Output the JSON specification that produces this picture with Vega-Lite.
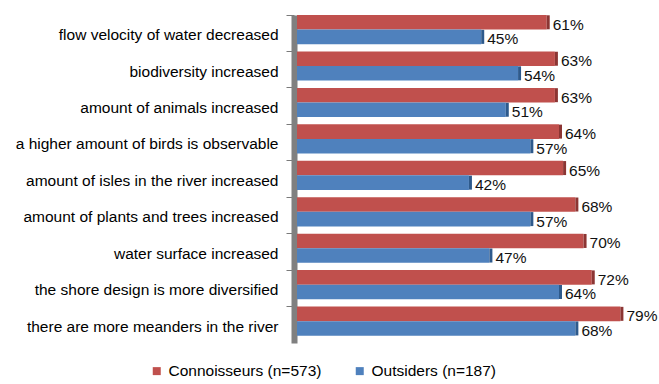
{
  "$schema": "https://vega.github.io/schema/vega-lite/v6.json",
  "width": 327.5,
  "height": 328,
  "autosize": {"type": "none"},
  "padding": {"left": 297, "top": 15, "right": 34.5, "bottom": 41},
  "background": "white",
  "config": {
    "view": {"stroke": null},
    "font": "Liberation Sans"
  },
  "data": {
    "values": [
      {"item": "flow velocity of water decreased", "series": "Connoisseurs (n=573)", "share": 0.61},
      {"item": "flow velocity of water decreased", "series": "Outsiders (n=187)", "share": 0.45},
      {"item": "biodiversity increased", "series": "Connoisseurs (n=573)", "share": 0.63},
      {"item": "biodiversity increased", "series": "Outsiders (n=187)", "share": 0.54},
      {"item": "amount of animals increased", "series": "Connoisseurs (n=573)", "share": 0.63},
      {"item": "amount of animals increased", "series": "Outsiders (n=187)", "share": 0.51},
      {"item": "a higher amount of birds is observable", "series": "Connoisseurs (n=573)", "share": 0.64},
      {"item": "a higher amount of birds is observable", "series": "Outsiders (n=187)", "share": 0.57},
      {"item": "amount of isles in the river increased", "series": "Connoisseurs (n=573)", "share": 0.65},
      {"item": "amount of isles in the river increased", "series": "Outsiders (n=187)", "share": 0.42},
      {"item": "amount of plants and trees increased", "series": "Connoisseurs (n=573)", "share": 0.68},
      {"item": "amount of plants and trees increased", "series": "Outsiders (n=187)", "share": 0.57},
      {"item": "water surface increased", "series": "Connoisseurs (n=573)", "share": 0.70},
      {"item": "water surface increased", "series": "Outsiders (n=187)", "share": 0.47},
      {"item": "the shore design is more diversified", "series": "Connoisseurs (n=573)", "share": 0.72},
      {"item": "the shore design is more diversified", "series": "Outsiders (n=187)", "share": 0.64},
      {"item": "there are more meanders in the river", "series": "Connoisseurs (n=573)", "share": 0.79},
      {"item": "there are more meanders in the river", "series": "Outsiders (n=187)", "share": 0.68}
    ]
  },
  "encoding": {
    "y": {
      "field": "item",
      "type": "nominal",
      "sort": null,
      "title": null,
      "scale": {"paddingInner": 0.2, "paddingOuter": 0.1, "align": 0},
      "axis": {
        "offset": 3,
        "bandPosition": 0,
        "domainColor": "#808080",
        "domainWidth": 6,
        "tickColor": "#7a7a7a",
        "tickSize": 8,
        "tickWidth": 1,
        "labelOffset": 5.5,
        "labelPadding": 8,
        "labelFontSize": 15.5,
        "labelColor": "#000000",
        "labelFont": "Liberation Sans",
        "labelLimit": 300
      }
    },
    "yOffset": {
      "field": "series",
      "type": "nominal",
      "scale": {"domain": ["Connoisseurs (n=573)", "Outsiders (n=187)"]}
    },
    "x": {
      "field": "share",
      "type": "quantitative",
      "scale": {"domain": [0, 0.8], "nice": false},
      "axis": null
    }
  },
  "layer": [
    {
      "mark": {"type": "bar"},
      "encoding": {
        "color": {
          "field": "series",
          "type": "nominal",
          "scale": {
            "domain": ["Connoisseurs (n=573)", "Outsiders (n=187)"],
            "range": ["#C0504D", "#4F81BD"]
          },
          "legend": {
            "title": null,
            "orient": "none",
            "legendX": -148,
            "legendY": 348,
            "direction": "horizontal",
            "symbolType": "square",
            "symbolSize": 64,
            "symbolStrokeWidth": 0,
            "labelFontSize": 15.5,
            "labelFont": "Liberation Sans",
            "labelColor": "#000000",
            "labelOffset": 4,
            "columnPadding": 30
          }
        }
      }
    },
    {
      "mark": {"type": "tick", "thickness": 3, "size": 14, "xOffset": 1.5, "opacity": 1},
      "encoding": {
        "color": {
          "condition": {"test": "datum.series === 'Outsiders (n=187)'", "value": "#2E5A8C"},
          "value": "#8C3533"
        }
      }
    },
    {
      "mark": {
        "type": "text",
        "align": "left",
        "baseline": "middle",
        "dx": 6,
        "dy": 2.5,
        "fontSize": 15.5,
        "font": "Liberation Sans",
        "color": "#111111"
      },
      "encoding": {
        "text": {"field": "share", "type": "quantitative", "format": ".0%"}
      }
    }
  ]
}
